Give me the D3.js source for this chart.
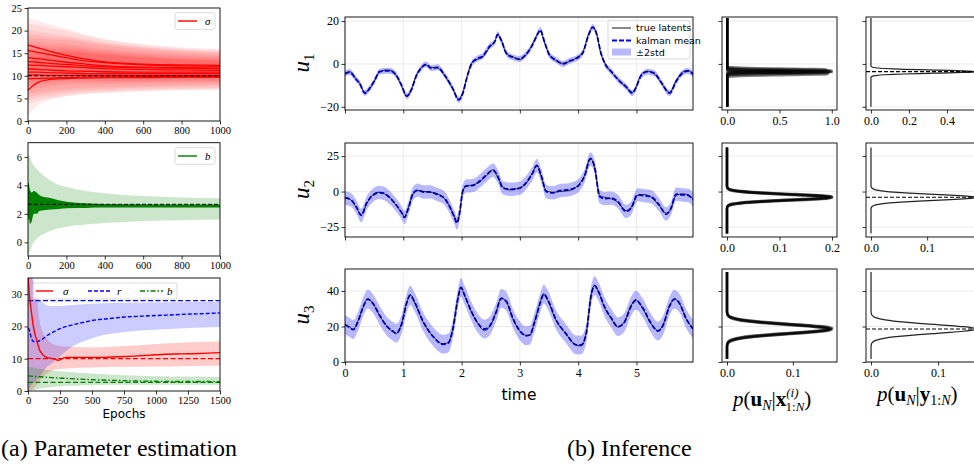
<!DOCTYPE html>
<html>
<head>
<meta charset="utf-8">
<script src="https://cdn.jsdelivr.net/npm/d3@7"></script>
<style>
  body { margin: 0; background: #fff; }
  svg { display: block; }
</style>
</head>
<body>
<svg id="fig" width="974" height="465"></svg>
<script>
// ---------- (a) parameter estimation data ----------
const sigmaEpochs = [0, 25, 50, 100, 200, 300, 400, 600, 800, 1000];
const sigmaRuns = [
  [16.8, 16.5, 16.2, 15.6, 14.5, 13.7, 13.1, 12.6, 12.4, 12.3],
  [15.6, 15.4, 15.2, 14.8, 14.0, 13.3, 12.9, 12.4, 12.2, 12.1],
  [14.0, 13.9, 13.8, 13.5, 13.0, 12.6, 12.2, 11.9, 11.8, 11.7],
  [13.2, 13.1, 13.0, 12.8, 12.5, 12.2, 12.0, 11.8, 11.7, 11.6],
  [12.4, 12.3, 12.3, 12.2, 12.0, 11.8, 11.6, 11.4, 11.3, 11.2],
  [11.5, 11.5, 11.4, 11.3, 11.1, 11.0, 10.9, 10.8, 10.8, 10.8],
  [10.8, 10.8, 10.8, 10.7, 10.6, 10.5, 10.5, 10.5, 10.5, 10.5],
  [10.2, 10.2, 10.2, 10.1, 10.1, 10.1, 10.1, 10.1, 10.1, 10.1],
  [9.3, 9.4, 9.4, 9.5, 9.6, 9.7, 9.7, 9.8, 9.8, 9.8],
  [6.8, 7.8, 8.5, 9.1, 9.4, 9.5, 9.6, 9.6, 9.7, 9.7]
];
const sigmaBandUp = [6.0, 6.0, 6.0, 5.9, 5.9, 5.5, 5.1, 4.4, 3.9, 3.6];
const sigmaBandDown = [5.5, 5.3, 5.0, 4.6, 4.0, 3.6, 3.4, 3.1, 2.9, 2.8];
const sigmaTrue = 10;

const bBandEpochs = [0, 10, 25, 50, 100, 150, 200, 300, 400, 600, 800, 1000];
const bBandHi = [6.2, 6.0, 5.5, 5.1, 4.5, 4.1, 3.9, 3.6, 3.45, 3.25, 3.15, 3.1];
const bBandLo = [-0.9, -0.6, -0.1, 0.3, 0.7, 0.95, 1.1, 1.25, 1.35, 1.5, 1.55, 1.6];
const bTraceEpochs = [0, 5, 10, 20, 30, 45, 60, 80, 120, 160, 200, 300, 400, 600, 800, 1000];
const bTraceHi = [4.2, 4.1, 3.7, 3.5, 3.6, 3.5, 3.3, 3.2, 3.1, 2.95, 2.85, 2.75, 2.7, 2.68, 2.66, 2.65];
const bTraceLo = [1.5, 1.7, 1.3, 1.5, 2.0, 2.0, 2.2, 2.25, 2.3, 2.35, 2.4, 2.42, 2.44, 2.44, 2.44, 2.44];
const bTrue = 2.67;

const sigEpochs3 = [0, 8, 15, 25, 40, 55, 70, 90, 110, 140, 170, 200, 235, 270, 300, 400, 560, 700, 820, 950, 1080, 1200, 1340, 1500];
const sigValues3 = [36, 31, 28, 25, 20.5, 17.5, 15.5, 12.8, 11.5, 10.5, 10.2, 10.0, 9.5, 10.1, 10.4, 10.4, 10.4, 10.6, 10.8, 11.1, 11.4, 11.5, 11.6, 11.9];
const sigBandEpochs3 = [0, 50, 100, 150, 200, 300, 500, 800, 1100, 1500];
const sigBandHi3 = [36, 33, 20, 16, 14.5, 13.8, 13.5, 14, 14.8, 15.3];
const sigBandLo3 = [0, 1, 3.5, 5.5, 6.5, 7, 7.3, 7.5, 7.6, 7.8];

const rEpochs3 = [0, 10, 25, 40, 55, 80, 110, 150, 200, 250, 320, 380, 450, 510, 625, 750, 900, 1080, 1250, 1400, 1500];
const rValues3 = [19.5, 19, 16.5, 15.4, 15.2, 15.4, 16, 17.2, 18.3, 19.3, 20.2, 20.8, 21.4, 21.9, 22.4, 22.9, 23.2, 23.5, 23.8, 24.0, 24.2];
const rBandEpochs3 = [0, 30, 60, 100, 150, 200, 300, 500, 800, 1100, 1500];
const rBandHi3 = [36, 36, 30, 28, 26.5, 26.3, 26.5, 27, 27.3, 27.5, 27.6];
const rBandLo3 = [0, 2, 3, 5, 7.5, 9, 12.5, 16.3, 18.4, 19.2, 19.8];

const bEpochs3 = [0, 50, 100, 200, 300, 500, 750, 1000, 1250, 1500];
const bValues3 = [4.7, 4.5, 4.4, 4.1, 3.9, 3.5, 3.2, 3.0, 2.95, 2.9];
const bBandHi3 = [7.5, 7.2, 6.8, 6.3, 6.0, 5.4, 4.9, 4.6, 4.5, 4.4];
const bBandLo3 = [0, 0.3, 0.8, 1.3, 1.6, 1.8, 1.9, 1.9, 1.9, 1.9];
const rTrue = 28;

// ---------- (b) inference data: [time, true latent, kalman mean] ----------
const u1Data = [[0,-4.4,-4.6],[0.08,-3.6,-3.8],[0.19,-7,-7.2],[0.25,-9,-9],[0.34,-13.3,-13.6],[0.42,-11.7,-11.5],[0.51,-7.8,-7.6],[0.59,-3.9,-3.6],[0.71,-2.8,-3.2],[0.79,-3.1,-3.3],[0.88,-5.5,-5.3],[0.97,-10.2,-10],[1.06,-15.2,-15],[1.14,-11.7,-12],[1.22,-5.5,-5.8],[1.31,-1.6,-1.8],[1.39,-0.5,-0.2],[1.48,-1.6,-2.0],[1.59,-1.9,-1.6],[1.71,-5.5,-5.3],[1.85,-11.7,-11.5],[1.95,-16.4,-16.8],[2.02,-13.3,-13.8],[2.09,-6.2,-6.6],[2.17,0.3,0.0],[2.25,1.9,2.2],[2.37,3.4,3.8],[2.48,7.8,8.2],[2.57,10.6,10.4],[2.62,13.6,13.8],[2.68,11.3,11.0],[2.77,4.7,4.9],[2.88,3.4,3.0],[2.99,2.0,2.3],[3.11,4.4,4.6],[3.19,7.8,7.6],[3.28,12.8,12.5],[3.35,15.3,15.8],[3.42,10.2,10.5],[3.51,4.2,4.0],[3.62,1.6,1.8],[3.74,0.3,0.0],[3.85,1.1,1.4],[3.97,2.8,2.6],[4.08,5.5,5.2],[4.18,14,13.6],[4.25,16.9,17.2],[4.31,14.8,14.5],[4.39,4.7,5.2],[4.45,0.8,0.6],[4.57,-3.9,-3.6],[4.71,-7.8,-8],[4.82,-10.9,-10.6],[4.93,-13.3,-13.6],[4.99,-10.9,-11.2],[5.08,-5,-5.4],[5.19,-3.4,-3.6],[5.31,-4.7,-4.4],[5.42,-8.6,-8.4],[5.57,-13.3,-13.6],[5.68,-7.8,-8.2],[5.79,-3.9,-4.2],[5.88,-3.1,-3.3],[5.97,-4.4,-4.8]];
const u2Data = [[0,-4,-4.5],[0.11,-6.3,-6],[0.19,-11,-10.5],[0.28,-16.2,-16.8],[0.37,-8.7,-8.2],[0.48,-2.1,-2.6],[0.57,-0.5,-0.8],[0.65,-1.2,-1.0],[0.77,-4,-4.4],[0.88,-9.9,-9.5],[0.97,-14.6,-14.8],[1.02,-17.6,-18.2],[1.08,-12.2,-12.8],[1.17,-1.6,-1.2],[1.25,0.7,1.0],[1.34,0.2,-0.3],[1.45,-0.5,-0.2],[1.59,-1.6,-2.2],[1.71,-5.2,-4.8],[1.79,-9.9,-10.3],[1.88,-18,-18.4],[1.92,-21.6,-22.2],[1.97,-14.6,-14],[2.02,0.7,0.2],[2.08,3.5,4.0],[2.19,4.7,4.2],[2.31,6.6,7.4],[2.42,10.8,11.5],[2.54,15.3,15.0],[2.62,10.1,10.8],[2.71,3.1,2.6],[2.82,1.2,1.6],[2.99,2.6,2.2],[3.11,5.9,6.4],[3.22,13.6,13.0],[3.29,18.8,18.2],[3.37,10.1,10.8],[3.45,0.7,0.0],[3.57,-0.5,-0.9],[3.68,0,0.6],[3.85,0.7,1.4],[3.99,4.2,3.6],[4.11,11.3,11.0],[4.21,23.7,23.0],[4.28,17.1,17.8],[4.37,-2.8,-3.6],[4.45,-4,-5],[4.57,-5.2,-4.6],[4.68,-7.5,-7.0],[4.82,-13.4,-14],[4.91,-11,-11.6],[5.02,-2.8,-2.2],[5.14,-2.1,-3.0],[5.25,-4,-3.6],[5.39,-9.9,-9.4],[5.51,-15.3,-15.8],[5.59,-12.2,-12.0],[5.68,-2.8,-1.8],[5.79,-1.6,-2.4],[5.88,-2.1,-2.6],[5.97,-5.2,-5.8]];
const u3Data = [[0,21.2,21.0],[0.08,19.7,19.5],[0.14,18.4,18.2],[0.22,22.9,22.6],[0.32,31.5,31.8],[0.39,35.6,35.4],[0.48,32.8,33],[0.59,26.3,26.5],[0.71,20.6,20.4],[0.82,16.9,17.4],[0.88,15.9,16.2],[0.97,21.6,21.2],[1.06,33.8,33.4],[1.12,37.9,37.6],[1.19,33.8,34],[1.34,22.5,22.8],[1.51,14.6,14.4],[1.68,10.3,10.0],[1.77,10.9,10.6],[1.85,18.8,18.4],[1.94,36.6,36.2],[1.99,42.2,42.0],[2.05,37.5,37.8],[2.17,28.1,28.4],[2.28,21.6,21.8],[2.39,17.8,18.6],[2.48,19.7,20.2],[2.59,28.1,27.8],[2.68,36,35.8],[2.77,33.8,34],[2.88,24.4,24.6],[2.99,17.8,18],[3.11,15,14.8],[3.17,15,15.2],[3.25,22.5,22.2],[3.35,33.8,33.4],[3.41,38.5,38.2],[3.48,34.7,35],[3.62,23.5,23.8],[3.79,15.9,16],[3.97,9.4,9.6],[4.05,9,9.6],[4.14,16.9,16.4],[4.22,37.5,37.0],[4.28,43.2,43.0],[4.35,39.4,39.6],[4.45,31,31.2],[4.57,24.4,24.6],[4.68,19.7,19.9],[4.79,22.5,22.2],[4.91,31.9,31.6],[4.99,35.1,34.8],[5.11,30,30.4],[5.25,21.6,21.8],[5.37,17.8,17.4],[5.45,20.6,20.2],[5.57,31.9,31.6],[5.65,35.6,35.4],[5.74,32.8,33.0],[5.85,24.4,24.6],[5.97,18.8,18.6]];
const twoStd = [1.4, 4.7, 5.3];

// density panels: ensemble [mean, peak] for p(u_N | x^(i)), single [mean, peak] for p(u_N | y)
const ensembleRows = [
  [[-3.0, 1.0], [-3.4, 0.98], [-3.8, 1.0], [-4.2, 0.97], [-2.6, 0.95], [-3.6, 1.0], [-4.8, 0.96]],
  [[-3.6, 0.2], [-4.0, 0.198], [-4.4, 0.2], [-4.2, 0.195], [-3.8, 0.2]],
  [[18.2, 0.159], [18.6, 0.157], [19.0, 0.16], [18.4, 0.155], [18.8, 0.158]]
];
const filterRows = [[-3.6, 0.547], [-4.1, 0.187], [18.6, 0.156]];
const trueFinal = [-3.6, -4.0, 18.6];
const uGridRange = [[-20, 21.4], [-29.6, 31], [1.7, 50.7]];
// normal profile: standardized offset -> relative height
const profileZ = [0, 0.25, 0.5, 0.75, 1, 1.25, 1.5, 1.75, 2, 2.5, 3, 3.5, 4];
const profileH = [1, 0.969, 0.882, 0.755, 0.607, 0.458, 0.325, 0.216, 0.135, 0.044, 0.011, 0.002, 0];

const timeTicks = [0, 1, 2, 3, 4, 5];
const uTicks = [[-20, 0, 20], [-25, 0, 25], [0, 20, 40]];
const uDomains = [[-21.5, 21.9], [-32, 34.2], [0, 52.4]];
const densTicks1 = [[0, 0.5, 1.0], [0, 0.1, 0.2], [0, 0.1]];
const densTicks2 = [[0, 0.2, 0.4], [0, 0.1], [0, 0.1]];
const densDomain1 = [[-0.05, 1.05], [-0.0095, 0.2095], [-0.0076, 0.167]];
const densDomain2 = [[-0.026, 0.579], [-0.0089, 0.196], [-0.0075, 0.164]];

// ---------- drawing ----------
const SERIF = "'Liberation Serif', 'DejaVu Serif', serif";
const SANS = "'DejaVu Sans', sans-serif";
const svg = d3.select("#fig");
const defs = svg.append("defs");
let clipN = 0;

function makePanel(b, xDom, yDom) {
  const x = d3.scaleLinear().domain(xDom).range([b[0], b[1]]);
  const y = d3.scaleLinear().domain(yDom).range([b[3], b[2]]);
  const id = "clip" + clipN++;
  defs.append("clipPath").attr("id", id).append("rect")
    .attr("x", b[0]).attr("y", b[2]).attr("width", b[1] - b[0]).attr("height", b[3] - b[2]);
  const g = svg.append("g");
  const grid = g.append("g");
  const plot = g.append("g").attr("clip-path", `url(#${id})`);
  return { x, y, g, grid, plot, b };
}

function finish(p, o) {
  const b = p.b;
  const xa = d3.axisBottom(p.x).tickValues(o.xt).tickSizeOuter(0).tickSizeInner(3.5)
    .tickPadding(2.5).tickFormat(o.xf || (() => ""));
  const ya = d3.axisLeft(p.y).tickValues(o.yt).tickSizeOuter(0).tickSizeInner(3.5)
    .tickPadding(2.5).tickFormat(o.yf || (() => ""));
  const xg = p.g.append("g").attr("transform", `translate(0,${b[3]})`).call(xa);
  const yg = p.g.append("g").attr("transform", `translate(${b[0]},0)`).call(ya);
  [xg, yg].forEach((s) => {
    s.attr("font-family", SERIF).attr("font-size", o.fs);
    s.select(".domain").remove();
    s.selectAll("line").attr("stroke", "#000").attr("stroke-width", 0.8);
    s.selectAll("text").attr("fill", "#000");
  });
  p.g.append("rect").attr("x", b[0]).attr("y", b[2])
    .attr("width", b[1] - b[0]).attr("height", b[3] - b[2])
    .attr("fill", "none").attr("stroke", "#000").attr("stroke-width", 0.9);
}

function grid(p, xs, ys) {
  p.grid.selectAll(".gx").data(xs).enter().append("line")
    .attr("x1", (d) => p.x(d)).attr("x2", (d) => p.x(d))
    .attr("y1", p.b[2]).attr("y2", p.b[3])
    .attr("stroke", "#e6e6e6").attr("stroke-width", 0.8);
  p.grid.selectAll(".gy").data(ys).enter().append("line")
    .attr("y1", (d) => p.y(d)).attr("y2", (d) => p.y(d))
    .attr("x1", p.b[0]).attr("x2", p.b[1])
    .attr("stroke", "#e6e6e6").attr("stroke-width", 0.8);
}

function hline(p, v, color, dash, w) {
  p.plot.append("line").attr("x1", p.b[0]).attr("x2", p.b[1])
    .attr("y1", p.y(v)).attr("y2", p.y(v))
    .attr("stroke", color).attr("stroke-width", w || 1.1).attr("stroke-dasharray", dash);
}

function band(p, xs, lo, hi, color, op) {
  const a = d3.area().x((d, i) => p.x(xs[i])).y0((d, i) => p.y(lo[i])).y1((d, i) => p.y(hi[i]))
    .curve(d3.curveMonotoneX);
  p.plot.append("path").attr("d", a(xs)).attr("fill", color).attr("fill-opacity", op);
}

function trace(p, xs, vs, color, w, dash) {
  const l = d3.line().x((d, i) => p.x(xs[i])).y((d, i) => p.y(vs[i])).curve(d3.curveMonotoneX);
  p.plot.append("path").attr("d", l(xs)).attr("fill", "none").attr("stroke", color)
    .attr("stroke-width", w).attr("stroke-dasharray", dash || null);
}

function legendBox(x, y, w, h) {
  svg.append("rect").attr("x", x).attr("y", y).attr("width", w).attr("height", h).attr("rx", 2)
    .attr("fill", "#fff").attr("fill-opacity", 0.8).attr("stroke", "#d0d0d0").attr("stroke-width", 0.8);
}
function legendLine(x1, x2, y, color, dash, w) {
  svg.append("line").attr("x1", x1).attr("x2", x2).attr("y1", y).attr("y2", y)
    .attr("stroke", color).attr("stroke-width", w || 1.4).attr("stroke-dasharray", dash || null);
}
function legendText(x, y, t, italic, font, size) {
  svg.append("text").attr("x", x).attr("y", y).attr("dy", "0.35em").text(t)
    .attr("font-family", font || SERIF).attr("font-size", size || 11)
    .attr("font-style", italic ? "italic" : "normal");
}

// panel a1: sigma
const a1 = makePanel([28, 220, 8, 121], [0, 1000], [0, 25]);
sigmaRuns.forEach((run) => {
  band(a1, sigmaEpochs, run.map((v, i) => v - sigmaBandDown[i]), run.map((v, i) => v + sigmaBandUp[i]), "#ff0000", 0.08);
});
sigmaRuns.forEach((run) => trace(a1, sigmaEpochs, run, "#ff0000", 1.3));
hline(a1, sigmaTrue, "#000", "4,2", 1);
finish(a1, { xt: [0, 200, 400, 600, 800, 1000], yt: [0, 5, 10, 15, 20, 25], xf: d3.format("d"), yf: d3.format("d"), fs: 10.5 });
legendBox(175, 12.7, 40, 16.6);
legendLine(178, 197, 21, "#ff0000");
legendText(205, 21, "σ", true);

// panel a2: b
const a2 = makePanel([28, 220, 142.7, 256], [0, 1000], [-0.96, 7]);
band(a2, bBandEpochs, bBandLo, bBandHi, "green", 0.2);
band(a2, bTraceEpochs, bTraceLo, bTraceHi, "green", 1);
hline(a2, bTrue, "#000", "4,2", 1);
finish(a2, { xt: [0, 200, 400, 600, 800, 1000], yt: [0, 2, 4, 6], xf: d3.format("d"), yf: d3.format("d"), fs: 10.5 });
legendBox(175, 147.7, 40, 16.6);
legendLine(178, 197, 156, "green");
legendText(205, 156, "b", true);

// panel a3: all parameters
const a3 = makePanel([28, 220, 278, 391], [0, 1500], [0, 35]);
band(a3, sigBandEpochs3, sigBandLo3, sigBandHi3, "#ff0000", 0.2);
band(a3, rBandEpochs3, rBandLo3, rBandHi3, "#0000ff", 0.2);
band(a3, bEpochs3, bBandLo3, bBandHi3, "green", 0.2);
hline(a3, rTrue, "#0000ff", "5,2.5", 1.3);
hline(a3, sigmaTrue, "#ff0000", "5,2.5", 1.3);
hline(a3, bTrue, "green", "5,2.5", 1.3);
trace(a3, rEpochs3, rValues3, "#0000ff", 1.4, "4,2");
trace(a3, sigEpochs3, sigValues3, "#ff0000", 1.4);
trace(a3, bEpochs3, bValues3, "green", 1.4, "5,2,1.5,2");
finish(a3, { xt: [0, 250, 500, 750, 1000, 1250, 1500], yt: [0, 10, 20, 30], xf: d3.format("d"), yf: d3.format("d"), fs: 10.5 });
legendBox(33, 283, 144, 16);
legendLine(36, 53, 291, "#ff0000");
legendText(63, 291, "σ", true);
legendLine(88, 112, 291, "#0000ff", "4,2");
legendText(117, 291, "r", true);
legendLine(140, 163, 291, "green", "5,2,1.5,2");
legendText(167, 291, "b", true);
svg.append("text").attr("x", 124).attr("y", 418).attr("text-anchor", "middle")
  .attr("font-family", SANS).attr("font-size", 12).text("Epochs");

// (b) time series rows
const rowsY = [[17, 110], [143, 237], [269, 362]];
const uData = [u1Data, u2Data, u3Data];
rowsY.forEach((ry, k) => {
  const p = makePanel([345, 693, ry[0], ry[1]], [0, 5.97], uDomains[k]);
  grid(p, timeTicks, uTicks[k]);
  const data = uData[k];
  const area = d3.area().x((d) => p.x(d[0]))
    .y0((d) => p.y(d[2] - twoStd[k])).y1((d) => p.y(d[2] + twoStd[k])).curve(d3.curveMonotoneX);
  p.plot.append("path").attr("d", area(data)).attr("fill", "#0000ff").attr("fill-opacity", 0.28);
  const meanLine = d3.line().x((d) => p.x(d[0])).y((d) => p.y(d[2])).curve(d3.curveMonotoneX);
  p.plot.append("path").attr("d", meanLine(data)).attr("fill", "none").attr("stroke", "#0000ff")
    .attr("stroke-width", 1.8).attr("stroke-dasharray", "5,2");
  const trueLine = d3.line().x((d) => p.x(d[0])).y((d) => p.y(d[1])).curve(d3.curveMonotoneX);
  p.plot.append("path").attr("d", trueLine(data)).attr("fill", "none").attr("stroke", "#000")
    .attr("stroke-width", 0.9).attr("stroke-opacity", 0.85);
  finish(p, { xt: timeTicks, yt: uTicks[k], xf: k === 2 ? d3.format("d") : null, yf: d3.format("d"), fs: 12 });

  // u_k label
  const lab = svg.append("text")
    .attr("transform", `translate(309,${(ry[0] + ry[1]) / 2 + 9}) rotate(-90)`)
    .attr("font-family", SERIF).attr("font-size", 23);
  lab.append("tspan").attr("font-style", "italic").text("u");
  lab.append("tspan").attr("font-size", 15).attr("dy", 5).text(k + 1);

  // density column 1: ensemble
  const d1 = makePanel([722, 837, ry[0], ry[1]], densDomain1[k], uDomains[k]);
  grid(d1, [], uTicks[k]);
  const curveLine = d3.line().x((d) => d[0]).y((d) => d[1]).curve(d3.curveMonotoneY);
  function densityPts(pp, mean, peak) {
    const sd = 1 / (peak * Math.sqrt(2 * Math.PI));
    const pts = [[0, uGridRange[k][0]]];
    for (let i = profileZ.length - 1; i > 0; i--) pts.push([peak * profileH[i], mean - profileZ[i] * sd]);
    for (let i = 0; i < profileZ.length; i++) pts.push([peak * profileH[i], mean + profileZ[i] * sd]);
    pts.push([0, uGridRange[k][1]]);
    return pts.map((q) => [pp.x(q[0]), pp.y(q[1])]).sort((a, b) => a[1] - b[1]);
  }
  ensembleRows[k].forEach((e) => {
    d1.plot.append("path").attr("d", curveLine(densityPts(d1, e[0], e[1])))
      .attr("fill", "none").attr("stroke", "#000").attr("stroke-width", 2.4).attr("stroke-opacity", 0.5);
  });
  finish(d1, { xt: densTicks1[k], yt: uTicks[k], xf: d3.format(".1f"), fs: 12 });

  // density column 2: filter posterior
  const d2 = makePanel([866, 981, ry[0], ry[1]], densDomain2[k], uDomains[k]);
  grid(d2, [], uTicks[k]);
  d2.plot.append("path").attr("d", curveLine(densityPts(d2, filterRows[k][0], filterRows[k][1])))
    .attr("fill", "none").attr("stroke", "#222").attr("stroke-width", 1.2);
  hline(d2, trueFinal[k], "#000", "4,2", 1.2);
  finish(d2, { xt: densTicks2[k], yt: uTicks[k], xf: d3.format(".1f"), fs: 12 });
});

// legend in u1
legendBox(608, 20.7, 82, 38.3);
legendLine(612, 631, 28, "#555", null, 1.4);
legendText(636, 28, "true latents", false, SANS, 9.5);
legendLine(612, 631, 40.5, "#0000ff", "5,2", 1.8);
legendText(636, 40.5, "kalman mean", false, SANS, 9.5);
svg.append("rect").attr("x", 612).attr("y", 48.5).attr("width", 19).attr("height", 7)
  .attr("fill", "#0000ff").attr("fill-opacity", 0.28);
legendText(636, 52.3, "±2std", false, SANS, 9.5);

svg.append("text").attr("x", 519).attr("y", 400).attr("text-anchor", "middle")
  .attr("font-family", SANS).attr("font-size", 15.5).text("time");

// density x labels
function densLabel(x, y, withX) {
  const t = svg.append("text").attr("x", x).attr("y", y).attr("font-family", SERIF).attr("font-size", 21);
  t.append("tspan").attr("font-style", "italic").text("p");
  t.append("tspan").text("(");
  t.append("tspan").attr("font-weight", "bold").text("u");
  t.append("tspan").attr("font-style", "italic").attr("font-size", 14).attr("dy", 4).text("N");
  t.append("tspan").attr("dy", -4).text("|");
  if (withX) {
    t.append("tspan").attr("font-weight", "bold").text("x");
    t.append("tspan").attr("font-style", "italic").attr("font-size", 13).attr("dy", -9).text("(i)");
    t.append("tspan").attr("font-size", 13).attr("dy", 14).attr("dx", -13).text("1:");
    t.append("tspan").attr("font-style", "italic").attr("font-size", 13).text("N");
    t.append("tspan").attr("dy", -5).text(")");
  } else {
    t.append("tspan").attr("font-weight", "bold").text("y");
    t.append("tspan").attr("font-size", 14).attr("dy", 4).text("1:");
    t.append("tspan").attr("font-style", "italic").attr("font-size", 14).text("N");
    t.append("tspan").attr("dy", -4).text(")");
  }
}
densLabel(733, 406, true);
densLabel(877, 401, false);

// captions
svg.append("text").attr("x", 1).attr("y", 456).attr("font-family", SERIF).attr("font-size", 24)
  .text("(a) Parameter estimation");
svg.append("text").attr("x", 567).attr("y", 456).attr("font-family", SERIF).attr("font-size", 24)
  .text("(b) Inference");
</script>
</body>
</html>
